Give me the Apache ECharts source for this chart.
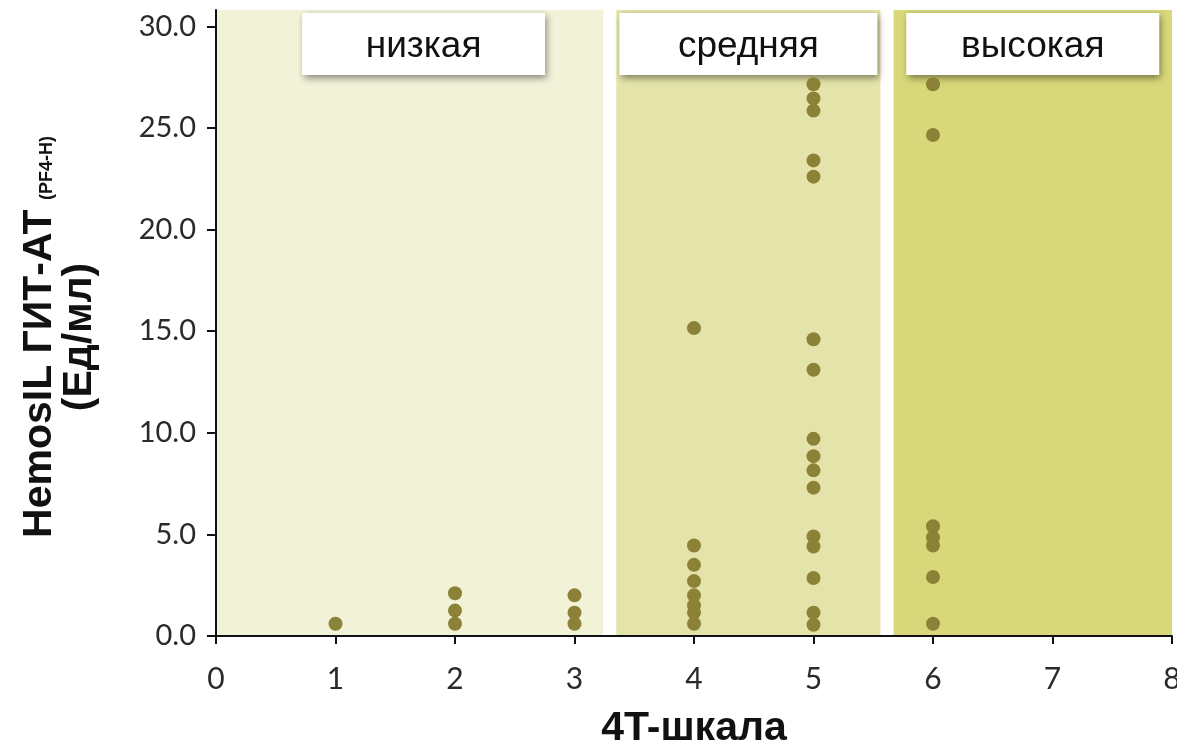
<!DOCTYPE html>
<html>
<head>
<meta charset="utf-8">
<script src="https://cdn.jsdelivr.net/npm/echarts@6/dist/echarts.min.js"></script>
<style>
html,body{margin:0;padding:0;background:#fff;}
#chart{width:1177px;height:751px;}
</style>
</head>
<body>
<div id="chart"></div>
<script>
// ---- data ----
const riskCategories = ['низкая', 'средняя', 'высокая'];
const bandStart = [0, 3.35, 5.67];
const bandEnd = [3.24, 5.56, 8];
const scoreLevels = [1, 2, 3, 4, 5, 6];
const hitAt1 = [0.6];
const hitAt2 = [2.1, 1.25, 0.6];
const hitAt3 = [2.0, 1.15, 0.6];
const hitAt4 = [15.15, 4.45, 3.5, 2.7, 2.0, 1.5, 1.15, 0.6];
const hitAt5 = [27.15, 26.45, 25.85, 23.4, 22.6, 14.6, 13.1, 9.7, 8.85, 8.15, 7.3, 4.9, 4.4, 2.85, 1.15, 0.55];
const hitAt6 = [27.15, 24.65, 5.4, 4.85, 4.45, 2.9, 0.6];
const xTicks = [0, 1, 2, 3, 4, 5, 6, 7, 8];
const yTicks = [0, 5, 10, 15, 20, 25, 30];

const groups = [hitAt1, hitAt2, hitAt3, hitAt4, hitAt5, hitAt6];
const points = [];
groups.forEach((vals, i) => vals.forEach(v => points.push([scoreLevels[i], v])));

const bandColors = ['#f2f2d8', '#e4e4aa', '#d8d87a'];
const boxWidths = [243, 258, 253];
const boxOffsets = [[14, 0], [0, 0], [0, 0]];

const markData = riskCategories.map((name, i) => ([
  {
    name: name,
    xAxis: bandStart[i],
    itemStyle: { color: bandColors[i], borderWidth: 0 },
    label: { width: boxWidths[i], offset: boxOffsets[i] }
  },
  { xAxis: bandEnd[i] }
]));

const chart = echarts.init(document.getElementById('chart'), null, { renderer: 'canvas' });
chart.setOption({
  animation: false,
  backgroundColor: '#ffffff',
  grid: { left: 216, right: 5, top: 10, bottom: 115, outerBoundsMode: 'none', containLabel: false },
  xAxis: {
    type: 'value',
    min: 0, max: 8, interval: 1,
    z: 10,
    name: '4T-шкала',
    nameLocation: 'middle',
    nameGap: 72,
    nameTextStyle: { fontFamily: 'Liberation Sans', fontWeight: 'bold', fontSize: 41, color: '#111' },
    axisLine: { show: true, lineStyle: { color: '#111', width: 2 } },
    axisTick: { show: true, length: 8, lineStyle: { color: '#111', width: 2 }, customValues: xTicks },
    axisLabel: { fontFamily: 'Lato', fontSize: 30, color: '#2a2a2a', margin: 28, customValues: xTicks, hideOverlap: false },
    splitLine: { show: false }
  },
  yAxis: {
    type: 'value',
    min: 0, max: 30.8, interval: 5,
    z: 10,
    name: '{m|HemosIL ГИТ-АТ} {s|(PF4-H)}\n{m|(Ед/мл)}',
    nameLocation: 'middle',
    nameGap: 116,
    nameTextStyle: {
      align: 'center',
      padding: [0, 28, 0, 0],
      rich: {
        m: { fontFamily: 'Liberation Sans', fontWeight: 'bold', fontSize: 41, lineHeight: 40, color: '#111' },
        s: { fontFamily: 'Liberation Sans', fontWeight: 'bold', fontSize: 18, lineHeight: 18, verticalAlign: 'bottom', color: '#111', padding: [0, 0, 4, 6] }
      }
    },
    axisLine: { show: true, lineStyle: { color: '#111', width: 2 } },
    axisTick: { show: true, length: 9, lineStyle: { color: '#111', width: 2 }, customValues: yTicks },
    axisLabel: {
      fontFamily: 'Lato', fontSize: 29, color: '#2a2a2a', margin: 20,
      customValues: yTicks,
      formatter: v => Number(v).toFixed(1)
    },
    splitLine: { show: false }
  },
  series: [{
    type: 'scatter',
    data: points,
    symbolSize: 14,
    itemStyle: { color: '#8b8237', opacity: 1 },
    z: 5,
    markArea: {
      silent: true,
      label: {
        show: true,
        position: 'insideTop',
        distance: 3,
        fontFamily: 'Liberation Sans',
        fontSize: 37,
        color: '#111',
        backgroundColor: '#ffffff',
        height: 56,
        lineHeight: 56,
        padding: [6, 0, 0, 0],
        align: 'center',
        shadowColor: 'rgba(0,0,0,0.45)',
        shadowBlur: 7,
        shadowOffsetX: 2,
        shadowOffsetY: 3
      },
      data: markData
    }
  }]
});
</script>
</body>
</html>
